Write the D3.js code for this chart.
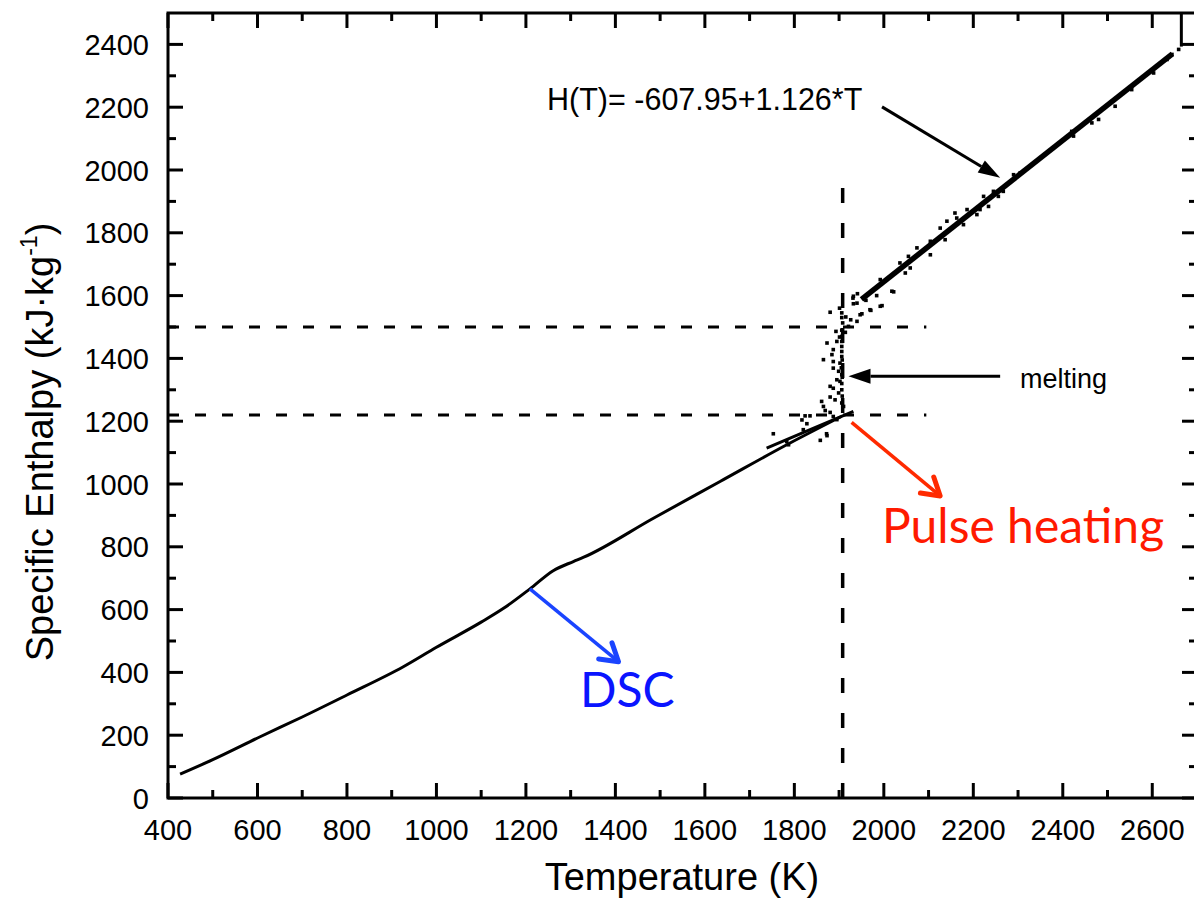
<!DOCTYPE html>
<html>
<head>
<meta charset="utf-8">
<script src="https://cdn.jsdelivr.net/npm/d3@7/dist/d3.min.js"></script>
<style>
  html, body { margin: 0; padding: 0; background: #fff; }
  svg { display: block; }
</style>
</head>
<body>
<svg id="chart" width="1194" height="905"></svg>
<script>
// ---------------- DATA ----------------
// DSC measured curve (Temperature K, specific enthalpy kJ/kg)
const dscT = [427, 500, 606, 700, 800, 926, 1000, 1100, 1150, 1209, 1261, 1306, 1328, 1485, 1634, 1783, 1905];
const dscH = [76, 122, 195, 258, 328, 418, 480, 560, 604, 666, 724, 753, 766, 891, 1008, 1125, 1215];

// Pulse-heating solid-phase line
const pulseT = [1738, 1830, 1932];
const pulseH = [1114, 1170, 1231];

// Liquid fit line H(T) = -607.95 + 1.126*T
const fitT = [1950, 2645];
const fitH = [1588, 2370];

// End spike of pulse-heating record
const spikeT = [2665, 2665];
const spikeH = [2393, 2500];

// Pulse-heating scatter points
const scatterT = [1941,1931,1932,1960,1984,2022,1996,1971,1951,1880,1901,1906,1915,1926,1940,1908,1921,1893,1914,1901,1895,1906,1873,1906,1887,1906,1884,1906,1865,1887,1902,1887,1899,1906,1895,1880,1902,1887,1906,1899,1880,1891,1861,1865,1906,1869,1910,1880,1887,1895,1824,1835,1817,1828,1873,1858,1753,1820,1787,1783,1872,1906,1906,1907,1905,1906,1907,1906,1907,
  1932,1940,1969,1992,1947,1992,2018,2036,2048,2059,2055,2074,2104,2104,2126,2137,2141,2159,2163,2178,2186,2208,2215,2223,2234,2245,2256,2267,2290,2305,2420,2424,2465,2480,2517,2554,2603,2633,2644,2659];
const scatterH = [1606,1592,1574,1585,1600,1612,1568,1553,1542,1547,1560,1545,1532,1523,1518,1513,1502,1486,1483,1468,1454,1454,1449,1438,1428,1422,1412,1406,1396,1390,1385,1369,1359,1348,1332,1311,1327,1305,1300,1290,1277,1268,1263,1247,1258,1234,1247,1228,1215,1205,1217,1217,1204,1192,1154,1139,1160,1173,1125,1135,1160,1490,1470,1395,1370,1320,1280,1530,1340,
  1598,1576,1555,1566,1539,1651,1614,1704,1672,1688,1725,1752,1773,1730,1815,1778,1837,1863,1847,1826,1874,1858,1874,1916,1884,1932,1916,1932,1985,1991,2123,2108,2150,2161,2203,2256,2309,2352,2368,2384];

// Reference lines
const meltT = 1908;
const meltTopH = 1960;
const levelH = [1220, 1500];
const levelEndT = 2095;

// Axis ticks
const xTicks = [400, 600, 800, 1000, 1200, 1400, 1600, 1800, 2000, 2200, 2400, 2600];
const yTicks = [0, 200, 400, 600, 800, 1000, 1200, 1400, 1600, 1800, 2000, 2200, 2400];
const xMinor = d3.range(500, 2700, 200);
const yMinor = d3.range(100, 2500, 200);

// ---------------- CHART ----------------
const svg = d3.select("#chart");
const L = 168, R = 1197, T = 13, B = 798;
const x = d3.scaleLinear().domain([400, 2700]).range([L, R]);
const y = d3.scaleLinear().domain([0, 2500]).range([B, T]);

const axisFont = "'Liberation Sans', Arial, sans-serif";
const lw = 3;

// Reference dashed lines
const g = svg.append("g");
levelH.forEach(h => {
  g.append("line")
    .attr("x1", x(400)).attr("x2", x(levelEndT))
    .attr("y1", y(h)).attr("y2", y(h))
    .attr("stroke", "#000").attr("stroke-width", 3)
    .attr("stroke-dasharray", "11,16");
});
g.append("line")
  .attr("x1", x(meltT)).attr("x2", x(meltT))
  .attr("y1", y(0)).attr("y2", y(meltTopH))
  .attr("stroke", "#000").attr("stroke-width", 3.5)
  .attr("stroke-dasharray", "15,20");

const line = d3.line().x(d => x(d[0])).y(d => y(d[1])).curve(d3.curveMonotoneX);
const straight = d3.line().x(d => x(d[0])).y(d => y(d[1]));
const zipper = (a, b) => a.map((v, i) => [v, b[i]]);

g.append("path").datum(zipper(dscT, dscH))
  .attr("d", line).attr("fill", "none").attr("stroke", "#000").attr("stroke-width", 3);
g.append("path").datum(zipper(pulseT, pulseH))
  .attr("d", straight).attr("fill", "none").attr("stroke", "#000").attr("stroke-width", 3);
g.append("path").datum(zipper(fitT, fitH))
  .attr("d", straight).attr("fill", "none").attr("stroke", "#000").attr("stroke-width", 5.5);
g.append("path").datum(zipper(spikeT, spikeH))
  .attr("d", straight).attr("fill", "none").attr("stroke", "#000").attr("stroke-width", 3);

g.selectAll("rect.pt").data(zipper(scatterT, scatterH)).enter().append("rect")
  .attr("class", "pt")
  .attr("x", d => x(d[0]) - 1.8).attr("y", d => y(d[1]) - 1.8)
  .attr("width", 3.6).attr("height", 3.6).attr("fill", "#000");

// Frame & ticks
const ax = svg.append("g").attr("stroke", "#000").attr("stroke-width", lw);
ax.append("rect").attr("x", L).attr("y", T).attr("width", R - L).attr("height", B - T).attr("fill", "none");
const MJ = 15, MN = 8;
xTicks.forEach(v => {
  ax.append("line").attr("x1", x(v)).attr("x2", x(v)).attr("y1", B).attr("y2", B - MJ);
  ax.append("line").attr("x1", x(v)).attr("x2", x(v)).attr("y1", T).attr("y2", T + MJ);
});
xMinor.forEach(v => {
  ax.append("line").attr("x1", x(v)).attr("x2", x(v)).attr("y1", B).attr("y2", B - MN);
  ax.append("line").attr("x1", x(v)).attr("x2", x(v)).attr("y1", T).attr("y2", T + MN);
});
yTicks.forEach(v => {
  ax.append("line").attr("y1", y(v)).attr("y2", y(v)).attr("x1", L).attr("x2", L + MJ);
  ax.append("line").attr("y1", y(v)).attr("y2", y(v)).attr("x1", R).attr("x2", R - MJ);
});
yMinor.forEach(v => {
  ax.append("line").attr("y1", y(v)).attr("y2", y(v)).attr("x1", L).attr("x2", L + MN);
  ax.append("line").attr("y1", y(v)).attr("y2", y(v)).attr("x1", R).attr("x2", R - MN);
});

// Tick labels
const tl = svg.append("g").attr("font-family", axisFont).attr("font-size", 29).attr("fill", "#000");
xTicks.forEach(v => {
  tl.append("text").attr("x", x(v)).attr("y", B + 42).attr("text-anchor", "middle").text(v);
});
yTicks.forEach(v => {
  tl.append("text").attr("x", L - 19).attr("y", y(v) + 10.5).attr("text-anchor", "end").text(v);
});

// Axis titles
svg.append("text").attr("x", 682).attr("y", 890).attr("text-anchor", "middle")
  .attr("font-family", axisFont).attr("font-size", 38).text("Temperature (K)");
const yt = svg.append("text").attr("transform", "translate(53,442) rotate(-90)")
  .attr("text-anchor", "middle").attr("font-family", axisFont).attr("font-size", 38);
yt.append("tspan").text("Specific Enthalpy (kJ·kg");
yt.append("tspan").attr("font-size", 23).attr("dy", -16).text("-1");
yt.append("tspan").attr("dy", 16).text(")");

// Annotations
function arrowFilled(t0, h0, t1, h1, color, w, headLen, headHalf) {
  const x0 = x(t0), y0 = y(h0), x1 = x(t1), y1 = y(h1);
  const ang = Math.atan2(y1 - y0, x1 - x0);
  const bx = x1 - headLen * Math.cos(ang), by = y1 - headLen * Math.sin(ang);
  svg.append("line").attr("x1", x0).attr("y1", y0).attr("x2", bx).attr("y2", by)
    .attr("stroke", color).attr("stroke-width", w);
  const px = -Math.sin(ang) * headHalf, py = Math.cos(ang) * headHalf;
  svg.append("path")
    .attr("d", `M${x1},${y1}L${bx + px},${by + py}L${bx - px},${by - py}Z`)
    .attr("fill", color);
}
function arrowOpen(t0, h0, t1, h1, color, w, hw, headLen, spread) {
  const x0 = x(t0), y0 = y(h0), x1 = x(t1), y1 = y(h1);
  const ang = Math.atan2(y1 - y0, x1 - x0);
  svg.append("line").attr("x1", x0).attr("y1", y0).attr("x2", x1 - 2 * Math.cos(ang)).attr("y2", y1 - 2 * Math.sin(ang))
    .attr("stroke", color).attr("stroke-width", w);
  const a1 = ang + Math.PI - spread, a2 = ang + Math.PI + spread;
  svg.append("path")
    .attr("d", `M${x1 + headLen * Math.cos(a1)},${y1 + headLen * Math.sin(a1)}L${x1},${y1}L${x1 + headLen * Math.cos(a2)},${y1 + headLen * Math.sin(a2)}`)
    .attr("fill", "none").attr("stroke", color).attr("stroke-width", hw)
    .attr("stroke-linecap", "round").attr("stroke-linejoin", "round");
}

arrowFilled(1996, 2201, 2260, 1975, "#000", 3, 22, 7);
arrowFilled(2260, 1343, 1921, 1343, "#000", 3, 22, 7.5);
arrowOpen(1209, 666, 1407, 434, "#1a44ff", 3.5, 5, 20, 0.55);
arrowOpen(1928, 1196, 2126, 962, "#ff2a00", 3.5, 5, 20, 0.55);

svg.append("text").attr("x", 547).attr("y", 110).attr("font-family", axisFont).attr("font-size", 30.5)
  .text("H(T)= -607.95+1.126*T");
svg.append("text").attr("x", 1020).attr("y", 388).attr("font-family", axisFont).attr("font-size", 27)
  .text("melting");
svg.append("text").attr("x", 580).attr("y", 707).attr("font-family", "Lato, sans-serif").attr("font-size", 48)
  .attr("fill", "#0a14ff").text("DSC");
svg.append("text").attr("x", 882).attr("y", 543).attr("font-family", "Lato, sans-serif").attr("font-size", 48)
  .attr("fill", "#ff1a00").text("Pulse heating");
</script>
</body>
</html>
